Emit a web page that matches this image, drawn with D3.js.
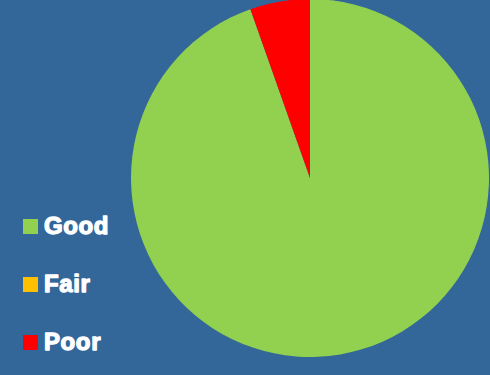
<!DOCTYPE html>
<html>
<head>
<meta charset="utf-8">
<script src="https://cdn.jsdelivr.net/npm/d3@7"></script>
<style>
  html, body { margin: 0; padding: 0; background: #336699; }
  svg { display: block; }
</style>
</head>
<body>
<svg id="chart" width="490" height="375"></svg>
<script>
// Rating shares (percent)
const categories = ["Good", "Fair", "Poor"];
const shares = [94.6, 0, 5.4];
const colors = ["#92D050", "#FFC000", "#FF0000"];

const svg = d3.select("#chart");
const W = 490, H = 375;

svg.append("rect").attr("width", W).attr("height", H).attr("fill", "#336699");

const data = categories.map((c, i) => ({ name: c, value: shares[i] }));
const color = d3.scaleOrdinal().domain(categories).range(colors);

// Pie, clockwise from 12 o'clock
const pie = d3.pie().sort(null).value(d => d.value);
const arc = d3.arc().innerRadius(0).outerRadius(179);

const g = svg.append("g").attr("transform", "translate(310,178)");
g.selectAll("path")
  .data(pie(data).filter(d => d.data.value > 0))
  .join("path")
  .attr("d", arc)
  .attr("fill", d => color(d.data.name));

// Legend
const legendY = d3.scalePoint().domain(categories).range([234, 350]);
const legend = svg.append("g");
const item = legend.selectAll("g")
  .data(categories)
  .join("g")
  .attr("transform", d => `translate(23,${legendY(d)})`);

item.append("rect")
  .attr("x", 0).attr("y", -15)
  .attr("width", 15).attr("height", 15)
  .attr("fill", d => color(d));

item.append("text")
  .attr("x", 21).attr("y", 0)
  .attr("fill", "#ffffff")
  .attr("stroke", "#ffffff")
  .attr("stroke-width", 1.3)
  .attr("stroke-linejoin", "round")
  .attr("letter-spacing", 0.6)
  .attr("font-family", "'Liberation Sans', Arial, sans-serif")
  .attr("font-weight", "bold")
  .attr("font-size", 24)
  .text(d => d);
</script>
</body>
</html>
